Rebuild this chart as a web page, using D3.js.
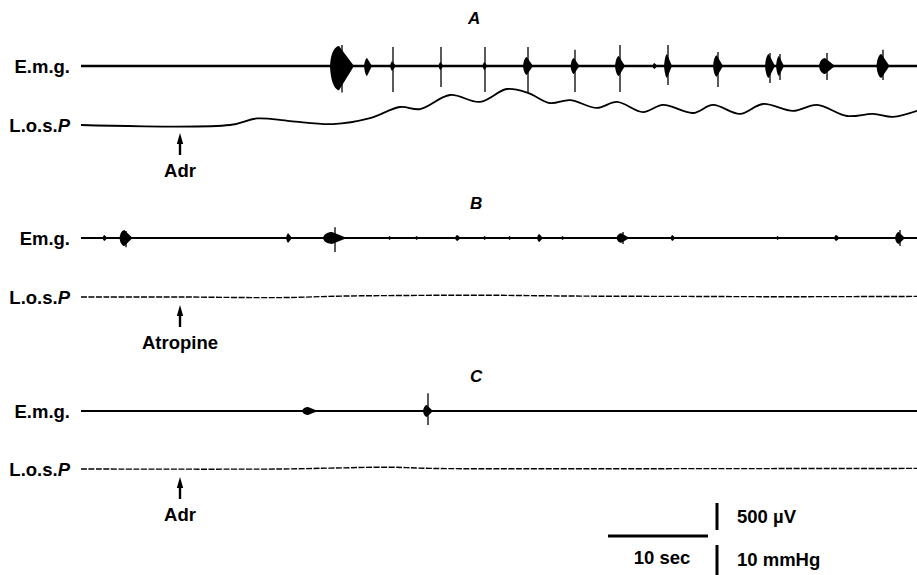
<!DOCTYPE html>
<html>
<head>
<meta charset="utf-8">
<script src="https://cdn.jsdelivr.net/npm/d3@7"></script>
<style>
  html, body { margin: 0; padding: 0; background: #fff; }
  svg text { font-family: "Liberation Sans", Arial, sans-serif; fill: #000; font-weight: bold; }
</style>
</head>
<body>
<svg id="chart" width="917" height="575"></svg>
<script>
// time axis of every record, seconds (10 sec scale bar)
const timeDomain = [0, 83.6];

// E.m.g. bursts: [time s, duration s, body up µV, body down µV, spike up µV, spike down µV]
const emgA = [
  [26.1, 2.4, 370, 450, 390, 490],
  [28.7, 0.8, 150, 185, 0, 0],
  [31.2, 0.6, 90, 90, 350, 480],
  [36.0, 0.5, 75, 75, 350, 390],
  [40.4, 0.5, 75, 75, 350, 480],
  [44.7, 1.0, 165, 165, 350, 480],
  [49.4, 0.9, 150, 150, 300, 480],
  [53.9, 1.0, 185, 185, 390, 480],
  [57.4, 0.5, 55, 55, 0, 0],
  [58.7, 0.8, 220, 220, 390, 350],
  [63.7, 1.0, 200, 200, 260, 390],
  [68.9, 1.0, 220, 220, 240, 315],
  [69.9, 0.8, 185, 185, 220, 260],
  [74.6, 1.6, 150, 150, 240, 260],
  [80.2, 1.3, 220, 220, 300, 260]
];
const emgB = [
  [2.4, 0.5, 55, 55, 0, 0],
  [4.5, 1.3, 150, 150, 130, 170],
  [20.8, 0.6, 90, 90, 0, 0],
  [25.4, 2.4, 110, 110, 200, 260],
  [30.9, 0.4, 35, 35, 0, 0],
  [33.6, 0.4, 35, 35, 0, 0],
  [37.7, 0.6, 55, 55, 0, 0],
  [40.4, 0.4, 35, 35, 0, 0],
  [42.9, 0.4, 35, 35, 0, 0],
  [45.9, 0.6, 75, 75, 0, 0],
  [48.2, 0.4, 35, 35, 0, 0],
  [54.2, 1.3, 90, 90, 110, 110],
  [59.2, 0.5, 55, 55, 0, 0],
  [69.7, 0.4, 35, 35, 0, 0],
  [75.6, 0.6, 55, 55, 0, 0],
  [81.9, 1.0, 110, 110, 150, 150]
];
const emgC = [
  [22.9, 1.6, 75, 75, 0, 0],
  [34.7, 1.0, 110, 110, 330, 260]
];

// L.o.s. pressure, [time s, mmHg above baseline]
const losA = [
  [0, 0], [14.9, 0], [17.6, 2.2], [20.9, 1.3], [25.2, 0.3], [28.9, 2.3],
  [31.9, 6.0], [33.9, 5.3], [36.9, 10.0], [39.9, 7.7], [42.6, 12.0], [44.7, 10.7],
  [46.9, 7.3], [48.9, 8.3], [51.6, 5.7], [53.6, 7.7], [56.2, 4.3], [58.2, 6.7],
  [61.2, 4.0], [63.2, 6.7], [65.9, 3.7], [68.2, 7.0], [71.2, 4.7], [73.6, 6.7],
  [76.6, 3.0], [79.2, 3.7], [81.2, 2.7], [83.6, 4.7]
];
const losB = [
  [0, 0], [10, 0], [20, -0.2], [26, 0.3], [32, 0.5], [40, 0.6],
  [50, 0.3], [60, 0.2], [70, 0.1], [83.6, 0.2]
];
const losC = [
  [0, 0], [20, 0], [25, 0.3], [31, 0.6], [35, 0.2], [50, 0.1], [83.6, 0.2]
];

const panelNames = ['A', 'B', 'C'];
const emgLabels = ['E.m.g.', 'Em.g.', 'E.m.g.'];
const drugNames = ['Adr', 'Atropine', 'Adr'];
const drugTimes = [9.9, 9.9, 9.9];

// scale bar values
const scaleTime = 10;      // sec
const scaleVolt = 500;     // µV
const scalePress = 10;     // mmHg

const svg = d3.select('#chart');
const x = d3.scaleLinear().domain(timeDomain).range([81, 917]);
const fs = 18.5;

// vertical placement of each panel
const layout = [
  { title: 24, emg: 66, los: 125 },
  { title: 209, emg: 238, los: 297 },
  { title: 382, emg: 411, los: 469 }
];

const emgSets = [emgA, emgB, emgC];
const losSets = [losA, losB, losC];

layout.forEach((p, i) => {
  const g = svg.append('g');
  // 500 µV = 27 px, 10 mmHg = 30 px
  const yE = d3.scaleLinear().domain([-500, 500]).range([p.emg + 27, p.emg - 27]);
  const yP = d3.scaleLinear().domain([0, 10]).range([p.los, p.los - 30]);

  g.append('text')
    .attr('x', 468 + (i ? 2 : 0)).attr('y', p.title)
    .attr('font-size', 17).attr('font-style', 'italic')
    .text(panelNames[i]);

  g.append('text')
    .attr('x', 70).attr('y', p.emg + 7)
    .attr('text-anchor', 'end').attr('font-size', fs)
    .text(emgLabels[i]);

  const losLab = g.append('text')
    .attr('x', 70).attr('y', p.los + 7)
    .attr('text-anchor', 'end').attr('font-size', fs);
  losLab.append('tspan').text('L.o.s.');
  losLab.append('tspan').attr('font-style', 'italic').text('P');

  // emg baseline
  g.append('line')
    .attr('x1', x(timeDomain[0])).attr('x2', x(timeDomain[1]))
    .attr('y1', yE(0)).attr('y2', yE(0))
    .attr('stroke', '#000').attr('stroke-width', i === 0 ? 2.6 : 2.1);

  const bursts = emgSets[i];
  g.selectAll('.body')
    .data(bursts)
    .enter()
    .append('path')
    .attr('class', 'body')
    .attr('fill', '#000')
    .attr('d', d => {
      const x0 = x(d[0] - d[1] / 2), x1 = x(d[0] + d[1] / 2), xc = x(d[0] - d[1] / 8);
      const y0 = yE(0);
      return `M${x0},${y0} C${x0 + 1},${yE(d[2])} ${xc},${yE(d[2])} ${xc},${yE(d[2])}` +
        ` L${x1},${y0} L${xc},${yE(-d[3])} C${xc},${yE(-d[3])} ${x0 + 1},${yE(-d[3])} ${x0},${y0}Z`;
    });

  g.selectAll('.spike')
    .data(bursts.filter(d => d[4] > 0 || d[5] > 0))
    .enter()
    .append('line')
    .attr('class', 'spike')
    .attr('x1', d => x(d[0])).attr('x2', d => x(d[0]))
    .attr('y1', d => yE(d[4])).attr('y2', d => yE(-d[5]))
    .attr('stroke', '#000').attr('stroke-width', 1.3);

  // pressure trace
  const line = d3.line()
    .x(d => x(d[0]))
    .y(d => yP(d[1]))
    .curve(d3.curveCatmullRom.alpha(0.5));
  g.append('path')
    .datum(losSets[i])
    .attr('fill', 'none')
    .attr('stroke', '#000')
    .attr('stroke-width', i === 0 ? 1.8 : 1.4)
    .attr('stroke-dasharray', i === 0 ? null : '6,1.5')
    .attr('d', line);

  // drug marker arrow
  const ax = x(drugTimes[i]);
  const top = p.los + 8;
  g.append('line')
    .attr('x1', ax).attr('x2', ax)
    .attr('y1', top + 8).attr('y2', top + 22)
    .attr('stroke', '#000').attr('stroke-width', 2.4);
  g.append('path')
    .attr('d', `M${ax},${top} L${ax - 3.2},${top + 11} L${ax + 3.2},${top + 11}Z`)
    .attr('fill', '#000');
  g.append('text')
    .attr('x', ax).attr('y', top + 44)
    .attr('text-anchor', 'middle').attr('font-size', fs)
    .text(drugNames[i]);
});

// calibration bars
const sx0 = 608;
const sbY = 536;
const sxScale = d3.scaleLinear().domain([0, scaleTime]).range([sx0, sx0 + (x(scaleTime) - x(0))]);
svg.append('line')
  .attr('x1', sxScale(0)).attr('x2', sxScale(scaleTime))
  .attr('y1', sbY).attr('y2', sbY)
  .attr('stroke', '#000').attr('stroke-width', 3);
svg.append('text')
  .attr('x', (sxScale(0) + sxScale(scaleTime)) / 2 + 4).attr('y', 564)
  .attr('text-anchor', 'middle').attr('font-size', fs)
  .text(`${scaleTime} sec`);

const vScale = d3.scaleLinear().domain([0, scaleVolt]).range([530, 503]);
const pScale = d3.scaleLinear().domain([0, scalePress]).range([575, 545]);
svg.append('line')
  .attr('x1', 717).attr('x2', 717)
  .attr('y1', vScale(0)).attr('y2', vScale(scaleVolt))
  .attr('stroke', '#000').attr('stroke-width', 3);
svg.append('line')
  .attr('x1', 717).attr('x2', 717)
  .attr('y1', pScale(0)).attr('y2', pScale(scalePress))
  .attr('stroke', '#000').attr('stroke-width', 3);
svg.append('text')
  .attr('x', 737).attr('y', 523).attr('font-size', fs)
  .text(`${scaleVolt} µV`);
svg.append('text')
  .attr('x', 737).attr('y', 566).attr('font-size', fs)
  .text(`${scalePress} mmHg`);
</script>
</body>
</html>
